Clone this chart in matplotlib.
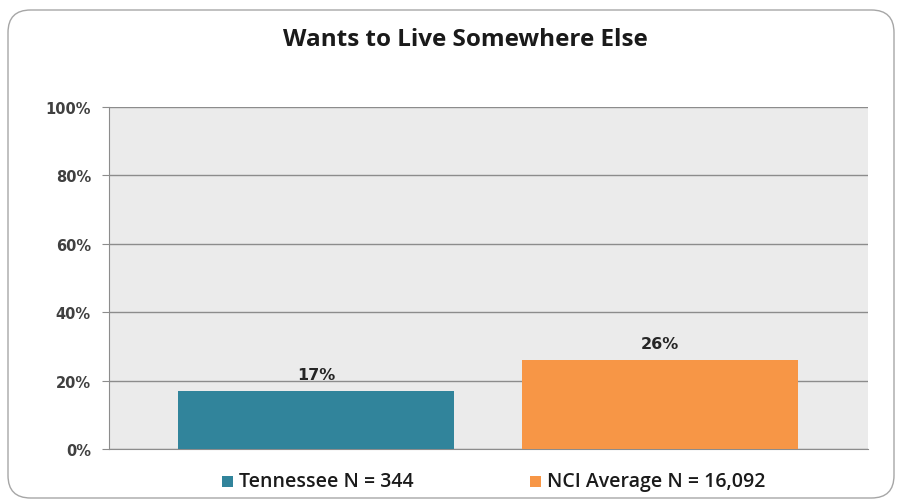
import matplotlib
matplotlib.use("Agg")
import matplotlib.pyplot as plt
from matplotlib.patches import FancyBboxPatch, Rectangle

series = ["Tennessee N = 344", "NCI Average N = 16,092"]
values = [17, 26]
labels = ["17%", "26%"]
colors = ["#31849B", "#F79646"]
yticks = [0, 20, 40, 60, 80, 100]
yticklabels = ["0%", "20%", "40%", "60%", "80%", "100%"]
title = "Wants to Live Somewhere Else"

W, H = 903, 502
fig = plt.figure(figsize=(W/100, H/100), dpi=100)
fig.patch.set_facecolor("white")

# outer rounded border
border = FancyBboxPatch((8/W, 3/H), 886/W, 488/H, boxstyle="round,pad=0,rounding_size=0.025",
                        transform=fig.transFigure, facecolor="none", edgecolor="#A6A6A6", linewidth=1.0,
                        mutation_aspect=W/H)
fig.patches.append(border)

left, right, top, bottom = 109, 868, 108, 450
ax = fig.add_axes([left/W, 1-bottom/H, (right-left)/W, (bottom-top)/H])
ax.set_facecolor("#EBEBEB")

x = [0, 1]
bars = ax.bar(x, values, width=0.801, color=colors, zorder=3)
for xi, v, lab in zip(x, values, labels):
    ax.text(xi, v + 2.6, lab, ha="center", va="bottom", fontsize=11.5, fontweight="bold",
            color="#262626", family="DejaVu Sans", zorder=4)

ax.set_xlim(-0.601, 1.603)
ax.set_ylim(0, 100)
ax.set_yticks(yticks)
ax.set_yticklabels(yticklabels, fontsize=10.5, fontweight="bold", color="#404040", family="DejaVu Sans")
ax.set_xticks([])
ax.yaxis.grid(True, color="#8C8C8C", linewidth=1.0, zorder=0)
ax.tick_params(axis="y", length=5, color="#8C8C8C", pad=8)
for s in ["top", "right"]:
    ax.spines[s].set_visible(False)
ax.spines["left"].set_color("#8C8C8C")
ax.spines["bottom"].set_color("#8C8C8C")

fig.text(465/W, 1-40/H, title, ha="center", va="center", fontsize=17.5, fontweight="bold",
         color="#1a1a1a", family="Open Sans")

# legend
legx = [222, 530]
for lx, s, c in zip(legx, series, colors):
    fig.patches.append(Rectangle((lx/W, 1-488/H), 11/W, 11/H, transform=fig.transFigure,
                                 facecolor=c, edgecolor="none"))
    fig.text((lx+17)/W, 1-482/H, s, ha="left", va="center", fontsize=14, color="#1a1a1a",
             family="Open Sans", fontweight="semibold")

fig.savefig("out.png", dpi=100)
